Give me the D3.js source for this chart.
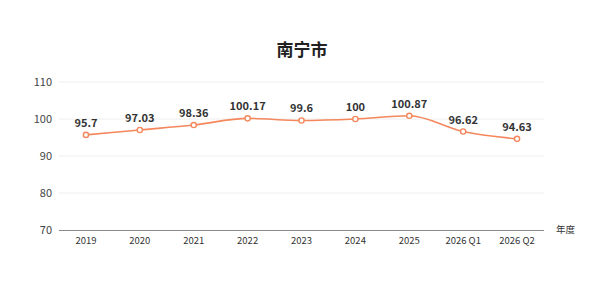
<!DOCTYPE html>
<html>
<head>
<meta charset="utf-8">
<script src="https://cdn.jsdelivr.net/npm/d3@7/dist/d3.min.js"></script>
<style>
  body { margin: 0; background: #fff; }
  text { font-family: "Noto Sans CJK SC", "Noto Sans", sans-serif; }
</style>
</head>
<body>
<div id="chart"></div>
<script>
const categories = ["2019", "2020", "2021", "2022", "2023", "2024", "2025", "2026 Q1", "2026 Q2"];
const values = [95.7, 97.03, 98.36, 100.17, 99.6, 100, 100.87, 96.62, 94.63];
const yTicks = [70, 80, 90, 100, 110];

const width = 608, height = 295;
const plotLeft = 59, plotRight = 544, plotTop = 82, plotBottom = 230;

const svg = d3.select('#chart').append('svg')
    .attr('width', width)
    .attr('height', height);

svg.append('text')
    .attr('x', 302).attr('y', 56)
    .attr('text-anchor', 'middle')
    .style('font-size', '17px').style('font-weight', 'bold')
    .attr('fill', '#222')
    .text('南宁市');

const x = d3.scaleBand().domain(categories).range([plotLeft, plotRight]);
const y = d3.scaleLinear().domain([70, 110]).range([plotBottom, plotTop]);

// grid
svg.append('g').selectAll('line')
    .data(yTicks.filter(d => d !== 70)).enter()
    .append('line')
    .attr('x1', plotLeft).attr('x2', plotRight)
    .attr('y1', d => y(d)).attr('y2', d => y(d))
    .attr('stroke', '#eeeeee').attr('stroke-width', 1);

svg.append('g').selectAll('text')
    .data(yTicks).enter()
    .append('text')
    .attr('x', 52).attr('y', d => y(d) + 4)
    .attr('text-anchor', 'end')
    .style('font-size', '11px')
    .attr('fill', '#444')
    .text(d => d);

// x axis
svg.append('line')
    .attr('x1', plotLeft).attr('x2', plotRight)
    .attr('y1', plotBottom + 0.5).attr('y2', plotBottom + 0.5)
    .attr('stroke', '#888');

svg.append('g').selectAll('text')
    .data(categories).enter()
    .append('text')
    .attr('x', d => x(d) + x.bandwidth() / 2)
    .attr('y', plotBottom + 14)
    .attr('text-anchor', 'middle')
    .style('font-size', '9.5px')
    .attr('fill', '#333')
    .text(d => d);

svg.append('text')
    .attr('x', 556).attr('y', plotBottom + 3)
    .style('font-size', '9.5px')
    .attr('fill', '#333')
    .text('年度');

const cx = (d, i) => x(categories[i]) + x.bandwidth() / 2;

const line = d3.line()
    .x(cx)
    .y(d => y(d))
    .curve(d3.curveMonotoneX);

svg.append('path')
    .datum(values)
    .attr('d', line)
    .attr('fill', 'none')
    .attr('stroke', '#f4875c')
    .attr('stroke-width', 1.6);

svg.append('g').selectAll('circle')
    .data(values).enter()
    .append('circle')
    .attr('cx', cx)
    .attr('cy', d => y(d))
    .attr('r', 2.6)
    .attr('fill', '#fff')
    .attr('stroke', '#f4875c')
    .attr('stroke-width', 1.4);

svg.append('g').selectAll('text')
    .data(values).enter()
    .append('text')
    .attr('x', cx)
    .attr('y', d => y(d) - 8)
    .attr('text-anchor', 'middle')
    .style('font-size', '11px').style('font-weight', 'bold')
    .attr('fill', '#333')
    .text(d => d);
</script>
</body>
</html>
